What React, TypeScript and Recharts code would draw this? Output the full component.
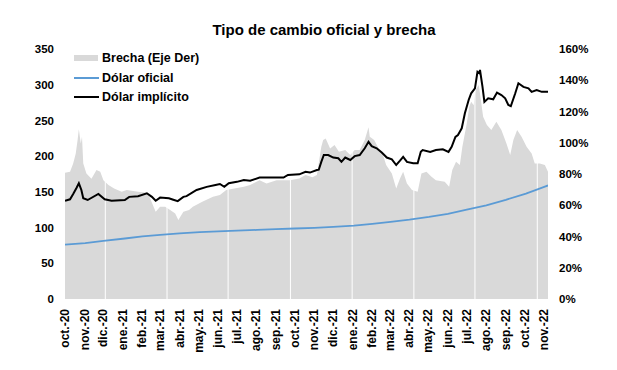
import React from 'react';
import { ComposedChart, Area, Line, XAxis, YAxis, ReferenceLine } from 'recharts';

const START = '2020-10-01';
const END = '2022-11-07';

const officialDates = ['2020-10-01','2020-11-02','2020-12-01','2021-01-04','2021-02-01','2021-03-01','2021-04-01','2021-05-03','2021-06-01','2021-07-01','2021-08-02','2021-09-01','2021-10-01','2021-11-01','2021-12-01','2022-01-03','2022-02-01','2022-03-02','2022-04-01','2022-05-02','2022-06-01','2022-07-01','2022-08-01','2022-09-01','2022-10-03','2022-11-01','2022-11-07'];
const officialValues = [76.2,78.3,81.4,84.7,87.6,89.9,92.0,93.7,94.8,95.7,96.7,97.7,98.7,99.7,101.1,102.8,105.3,107.9,111.0,114.9,119.3,125.2,131.2,138.8,147.6,157.0,159.0];

const implicitDates = ['2020-10-01','2020-10-09','2020-10-14','2020-10-19','2020-10-23','2020-10-27','2020-10-30','2020-11-06','2020-11-23','2020-12-03','2020-12-14','2021-01-04','2021-01-11','2021-01-25','2021-02-08','2021-02-16','2021-02-22','2021-03-01','2021-03-15','2021-03-22','2021-03-29','2021-04-07','2021-04-12','2021-04-28','2021-05-14','2021-05-28','2021-06-04','2021-06-11','2021-06-18','2021-07-01','2021-07-12','2021-07-22','2021-08-06','2021-09-02','2021-09-13','2021-09-20','2021-10-08','2021-10-18','2021-10-25','2021-11-05','2021-11-08','2021-11-12','2021-11-16','2021-11-23','2021-12-01','2021-12-09','2021-12-14','2021-12-20','2021-12-28','2022-01-04','2022-01-12','2022-01-20','2022-01-26','2022-01-31','2022-02-08','2022-02-16','2022-02-24','2022-03-04','2022-03-11','2022-03-17','2022-03-22','2022-03-28','2022-04-07','2022-04-14','2022-04-19','2022-04-22','2022-05-04','2022-05-13','2022-05-24','2022-06-02','2022-06-07','2022-06-13','2022-06-17','2022-06-23','2022-06-28','2022-07-04','2022-07-08','2022-07-14','2022-07-18','2022-07-21','2022-07-22','2022-07-26','2022-07-29','2022-08-04','2022-08-12','2022-08-18','2022-08-25','2022-08-31','2022-09-05','2022-09-09','2022-09-16','2022-09-21','2022-09-29','2022-10-07','2022-10-12','2022-10-20','2022-10-28','2022-11-07'];
const implicitValues = [137.6,139.6,147,155,162,152.6,141,138.6,147,139.6,137.6,138.6,143,144,148,143,137.6,142,141,139,137,143,144,152.6,157,159.6,161,157,162,164,166.6,165.6,170,170,170,173.6,174.5,178,177,180.6,181,192,201.6,201.6,198,197,192,198,194.6,200,201.6,211,220,214,211,205,198,195.6,187.6,193.6,199,192,190,190,206,208.6,206,208.6,209.6,206,213,227,229.6,239,260,278.6,288,295,318,316,320.6,297,276,281,279.6,289,285.6,281,271.6,270,288,302,297,295,290,292.6,290,290];

const gapDates = ['2020-10-01','2020-10-09','2020-10-14','2020-10-18','2020-10-21','2020-10-23','2020-10-26','2020-10-28','2020-10-30','2020-11-04','2020-11-12','2020-11-20','2020-11-26','2020-12-01','2020-12-09','2020-12-18','2020-12-30','2021-01-07','2021-01-25','2021-02-08','2021-02-12','2021-02-22','2021-03-01','2021-03-09','2021-03-17','2021-03-25','2021-03-30','2021-04-07','2021-04-16','2021-04-22','2021-05-07','2021-05-24','2021-06-04','2021-06-14','2021-07-12','2021-07-22','2021-08-06','2021-08-17','2021-09-02','2021-09-23','2021-10-08','2021-10-18','2021-10-29','2021-11-05','2021-11-12','2021-11-15','2021-11-19','2021-11-26','2021-12-03','2021-12-10','2021-12-20','2021-12-28','2022-01-04','2022-01-12','2022-01-20','2022-01-26','2022-01-28','2022-02-04','2022-02-11','2022-02-18','2022-02-23','2022-03-04','2022-03-11','2022-03-17','2022-03-22','2022-03-28','2022-04-05','2022-04-14','2022-04-20','2022-04-28','2022-05-06','2022-05-13','2022-05-27','2022-06-03','2022-06-08','2022-06-14','2022-06-20','2022-06-24','2022-07-01','2022-07-05','2022-07-08','2022-07-12','2022-07-15','2022-07-20','2022-07-22','2022-07-27','2022-08-02','2022-08-09','2022-08-17','2022-08-25','2022-09-02','2022-09-08','2022-09-13','2022-09-19','2022-09-26','2022-10-04','2022-10-12','2022-10-17','2022-10-25','2022-11-02','2022-11-07'];
const gapValues = [80.8,81.5,86.8,93,101.8,108.6,99.6,103.9,86.8,80.4,77,82.6,81.5,76,73,70.8,68.7,69.8,68.7,68,65.5,55.9,59,59,57,54.8,50.6,55.9,57,59,62.3,65.5,66.6,69.8,71.9,73,76,74,76,76,77.2,79.4,77.9,79.4,97.5,101.8,102.8,96.4,98.6,94.3,95.4,92.2,95.4,95.4,101.8,109.9,103.9,101.8,96.4,92.2,85.8,80.4,70.8,77.2,81.5,74,69.8,68.7,80.4,81.5,78.3,76,75,71.9,82.6,87.9,85.8,97.5,112.4,123,126.3,124,133.8,137,131.6,116.7,111.4,108.2,113.5,108.2,99.6,92.2,101.8,108.2,103.9,97.5,93.2,86.8,86.8,85.8,81.5];

const monthTickDates = ['2020-10-01','2020-11-01','2020-12-01','2021-01-01','2021-02-01','2021-03-01','2021-04-01','2021-05-01','2021-06-01','2021-07-01','2021-08-01','2021-09-01','2021-10-01','2021-11-01','2021-12-01','2022-01-01','2022-02-01','2022-03-01','2022-04-01','2022-05-01','2022-06-01','2022-07-01','2022-08-01','2022-09-01','2022-10-01','2022-11-01'];
const monthLabels = ['oct.-20','nov.-20','dic.-20','ene.-21','feb.-21','mar.-21','abr.-21','may.-21','jun.-21','jul.-21','ago.-21','sep.-21','oct.-21','nov.-21','dic.-21','ene.-22','feb.-22','mar.-22','abr.-22','may.-22','jun.-22','jul.-22','ago.-22','sep.-22','oct.-22','nov.-22'];
const gridDates = ['2020-12-04','2021-03-12','2021-06-17','2021-09-24','2021-12-31','2022-04-08','2022-07-14','2022-10-21'];

const leftTicks = [0, 50, 100, 150, 200, 250, 300, 350];
const rightTicks = [0, 20, 40, 60, 80, 100, 120, 140, 160];

const TITLE = 'Tipo de cambio oficial y brecha';
const LEGEND_GAP = 'Brecha (Eje Der)';
const LEGEND_OFFICIAL = 'Dólar oficial';
const LEGEND_IMPLICIT = 'Dólar implícito';

const ts = (s: string) => Date.parse(s + 'T00:00:00Z');

const officialData = officialDates.map((d, i) => ({ t: ts(d), v: officialValues[i] }));
const implicitData = implicitDates.map((d, i) => ({ t: ts(d), v: implicitValues[i] }));
const gapData = gapDates.map((d, i) => ({ t: ts(d), v: gapValues[i] }));
const tickTimes = monthTickDates.map(ts);

const FONT = '"Liberation Sans", Arial, Helvetica, sans-serif';
const GREY = '#d9d9d9';
const BLUE = '#5b9bd5';

const XTick = (props: any) => {
  const { x, y, payload } = props;
  const i = tickTimes.indexOf(payload.value);
  return (
    <text
      x={x}
      y={y}
      transform={`rotate(-90, ${x}, ${y})`}
      textAnchor="end"
      dominantBaseline="central"
      fontSize={12}
      fontWeight="bold"
      fontFamily={FONT}
      fill="#000"
    >
      {i >= 0 ? monthLabels[i] : ''}
    </text>
  );
};

const tickStyle = { fontSize: 11.5, fontWeight: 'bold' as const, fontFamily: FONT, fill: '#000' };

const legendRow = (marker: React.ReactNode, label: string) => (
  <div style={{ display: 'flex', alignItems: 'center', height: 19.5 }}>
    <div style={{ width: 25, display: 'flex', alignItems: 'center' }}>{marker}</div>
    <span style={{ marginLeft: 3, fontSize: 12.5, fontWeight: 'bold', fontFamily: FONT, color: '#000', whiteSpace: 'nowrap' }}>{label}</span>
  </div>
);

export default function App() {
  return (
    <div style={{ position: 'relative', width: 609, height: 354 }}>
      <ComposedChart width={609} height={354} margin={{ top: 41, right: 9, bottom: 0, left: 7 }}>
        <XAxis
          dataKey="t"
          type="number"
          domain={[ts(START), ts(END)]}
          ticks={tickTimes}
          tick={<XTick />}
          tickLine={false}
          axisLine={false}
          tickSize={0}
          tickMargin={10}
          height={63}
          interval={0}
          allowDataOverflow
        />
        <YAxis
          yAxisId="left"
          orientation="left"
          domain={[0, 350]}
          ticks={leftTicks}
          width={50}
          tickLine={false}
          axisLine={false}
          tickSize={0}
          tickMargin={11}
          tick={tickStyle}
          interval={0}
        />
        <YAxis
          yAxisId="right"
          orientation="right"
          domain={[0, 160]}
          ticks={rightTicks}
          width={60}
          tickLine={false}
          axisLine={false}
          tickSize={0}
          tickMargin={11}
          tick={tickStyle}
          tickFormatter={(v: number) => `${v}%`}
          interval={0}
        />
        <Area
          yAxisId="right"
          data={gapData}
          dataKey="v"
          type="linear"
          fill={GREY}
          fillOpacity={1}
          stroke="none"
          isAnimationActive={false}
          dot={false}
          activeDot={false}
        />
        {gridDates.map((d) => (
          <ReferenceLine key={d} yAxisId="right" x={ts(d)} stroke="#ffffff" strokeWidth={1} ifOverflow="hidden" />
        ))}
        <Line
          yAxisId="left"
          data={officialData}
          dataKey="v"
          type="linear"
          stroke={BLUE}
          strokeWidth={1.8}
          dot={false}
          activeDot={false}
          isAnimationActive={false}
        />
        <Line
          yAxisId="left"
          data={implicitData}
          dataKey="v"
          type="linear"
          stroke="#000"
          strokeWidth={2}
          dot={false}
          activeDot={false}
          isAnimationActive={false}
        />
      </ComposedChart>
      <div
        style={{
          position: 'absolute',
          left: 0,
          width: 632,
          top: 14,
          textAlign: 'center',
          fontFamily: FONT,
          fontSize: 15,
          fontWeight: 'bold',
          lineHeight: '15px',
          color: '#000',
          whiteSpace: 'nowrap',
        }}
      >
        {TITLE}
      </div>
      <div style={{ position: 'absolute', left: 66, top: 40.5 }}>
        {legendRow(<div style={{ width: 24, height: 6, background: GREY }} />, LEGEND_GAP)}
        {legendRow(<div style={{ width: 25, height: 1.8, background: BLUE }} />, LEGEND_OFFICIAL)}
        {legendRow(<div style={{ width: 25, height: 2, background: '#000' }} />, LEGEND_IMPLICIT)}
      </div>
    </div>
  );
}
